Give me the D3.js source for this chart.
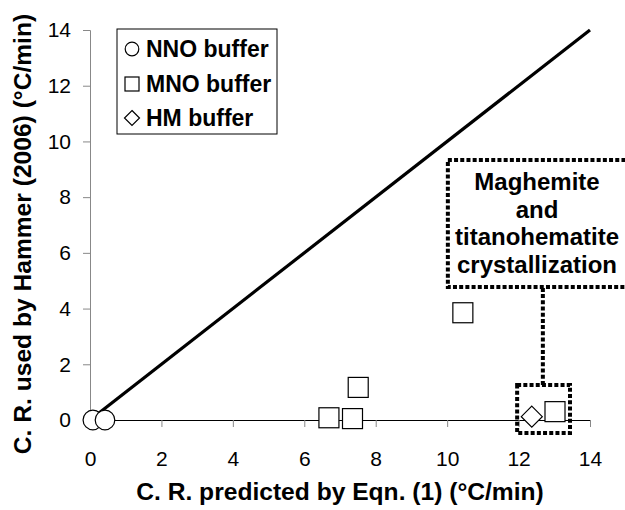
<!DOCTYPE html>
<html>
<head>
<meta charset="utf-8">
<script src="https://cdn.jsdelivr.net/npm/d3@7/dist/d3.min.js"></script>
<style>
  html, body { margin: 0; padding: 0; background: #fff; }
  svg { display: block; font-family: "Liberation Sans", Arial, sans-serif; }
</style>
</head>
<body>
<svg id="chart" width="625" height="510"></svg>
<script>
// Cooling-rate comparison: rate predicted by Eqn. (1) vs. rate used by Hammer (2006)
const nnoX = [0.08, 0.42];
const nnoY = [0, 0];
const mnoX = [6.69, 7.35, 7.51, 10.44, 13.02];
const mnoY = [0.08, 0.05, 1.17, 3.85, 0.30];
const hmX = [12.37];
const hmY = [0.12];
const oneToOne = [0, 14];
const xTicks = [0, 2, 4, 6, 8, 10, 12, 14];
const yTicks = [0, 2, 4, 6, 8, 10, 12, 14];
const legendLabels = ["NNO buffer", "MNO buffer", "HM buffer"];
const calloutLines = ["Maghemite", "and", "titanohematite", "crystallization"];

const svg = d3.select("#chart");
const x = d3.scaleLinear().domain([0, 14]).range([90, 590]);
const y = d3.scaleLinear().domain([0, 14]).range([420, 30]);

// axes
const xAxis = svg.append("g").attr("transform", `translate(0,${y(0)})`)
  .call(d3.axisBottom(x).tickValues(xTicks).tickSize(7).tickPadding(24).tickFormat(d3.format("d")));
xAxis.select(".domain").attr("stroke", "#000").attr("stroke-width", 1);
xAxis.selectAll(".tick line").attr("stroke", "#888");
xAxis.selectAll(".tick text").attr("font-size", 21).attr("fill", "#000")
  .attr("font-family", "Liberation Sans, Arial, sans-serif");

const yAxis = svg.append("g").attr("transform", `translate(${x(0)},0)`)
  .call(d3.axisLeft(y).tickValues(yTicks).tickSize(7).tickSizeOuter(7).tickPadding(12).tickFormat(d3.format("d")));
yAxis.select(".domain").attr("stroke", "#888").attr("stroke-width", 1);
yAxis.selectAll(".tick line").attr("stroke", "#888");
yAxis.selectAll(".tick text").attr("font-size", 21).attr("fill", "#000")
  .attr("font-family", "Liberation Sans, Arial, sans-serif");

// axis titles
svg.append("text")
  .attr("x", (x(0) + x(14)) / 2).attr("y", 500)
  .attr("text-anchor", "middle").attr("font-weight", "bold").attr("font-size", 24.6)
  .text("C. R. predicted by Eqn. (1) (°C/min)");
svg.append("text")
  .attr("transform", "translate(31,234) rotate(-90)")
  .attr("text-anchor", "middle").attr("font-weight", "bold").attr("font-size", 24.6)
  .text("C. R. used by Hammer (2006) (°C/min)");

// 1:1 line
svg.append("line")
  .attr("x1", x(oneToOne[0])).attr("y1", y(oneToOne[0]))
  .attr("x2", x(oneToOne[1])).attr("y2", y(oneToOne[1]))
  .attr("stroke", "#000").attr("stroke-width", 3.2);

// markers
const mk = svg.append("g").attr("fill", "#fff").attr("stroke", "#000").attr("stroke-width", 1.2);
const sq = 20;
mk.selectAll("rect.mno").data(d3.range(mnoX.length)).join("rect")
  .attr("x", i => x(mnoX[i]) - sq / 2).attr("y", i => y(mnoY[i]) - sq / 2)
  .attr("width", sq).attr("height", sq);
mk.selectAll("path.hm").data(d3.range(hmX.length)).join("path")
  .attr("d", i => {
    const cx = x(hmX[i]), cy = y(hmY[i]), r = 10.5;
    return `M${cx},${cy - r}L${cx + r},${cy}L${cx},${cy + r}L${cx - r},${cy}Z`;
  });
mk.selectAll("circle.nno").data(d3.range(nnoX.length)).join("circle")
  .attr("cx", i => x(nnoX[i])).attr("cy", i => y(nnoY[i])).attr("r", 9.8);

// callout: dotted frames and connector
const dotted = { stroke: "#000", "stroke-width": 4, "stroke-dasharray": "4 2.2", fill: "none" };
const callout = svg.append("g");
function applyStyle(sel, st) { Object.entries(st).forEach(([k, v]) => sel.attr(k, v)); return sel; }
// small frame round the HM point and the last MNO point
applyStyle(callout.append("rect")
  .attr("x", x(11.96)).attr("y", y(1.26))
  .attr("width", x(13.44) - x(11.96)).attr("height", y(-0.47) - y(1.26)), dotted);
// connector up to the label frame
applyStyle(callout.append("line")
  .attr("x1", x(12.68)).attr("x2", x(12.68))
  .attr("y1", y(1.26)).attr("y2", y(4.77)), dotted);
// label frame (runs past the right edge)
applyStyle(callout.append("rect")
  .attr("x", x(10.02)).attr("y", y(9.33))
  .attr("width", 640 - x(10.02)).attr("height", y(4.77) - y(9.33)), dotted);
callout.append("text")
  .attr("text-anchor", "middle").attr("font-weight", "bold").attr("font-size", 24)
  .selectAll("tspan").data(calloutLines).join("tspan")
  .attr("x", 537).attr("y", (d, i) => 190 + i * 27.5)
  .text(d => d);

// legend
const lg = svg.append("g");
lg.append("rect").attr("x", 117).attr("y", 29).attr("width", 160).attr("height", 105)
  .attr("fill", "#fff").attr("stroke", "#000").attr("stroke-width", 1);
const rowY = [49, 84, 118];
const ls = lg.append("g").attr("fill", "#fff").attr("stroke", "#000").attr("stroke-width", 1.2);
ls.append("circle").attr("cx", 132).attr("cy", rowY[0]).attr("r", 6.8);
ls.append("rect").attr("x", 125).attr("y", rowY[1] - 7).attr("width", 14).attr("height", 14);
ls.append("path").attr("d", `M132,${rowY[2] - 7.5}L139.5,${rowY[2]}L132,${rowY[2] + 7.5}L124.5,${rowY[2]}Z`);
lg.selectAll("text.leg").data(legendLabels).join("text")
  .attr("x", 146).attr("y", (d, i) => rowY[i] + 8)
  .attr("font-weight", "bold").attr("font-size", 23)
  .text(d => d);
</script>
</body>
</html>
